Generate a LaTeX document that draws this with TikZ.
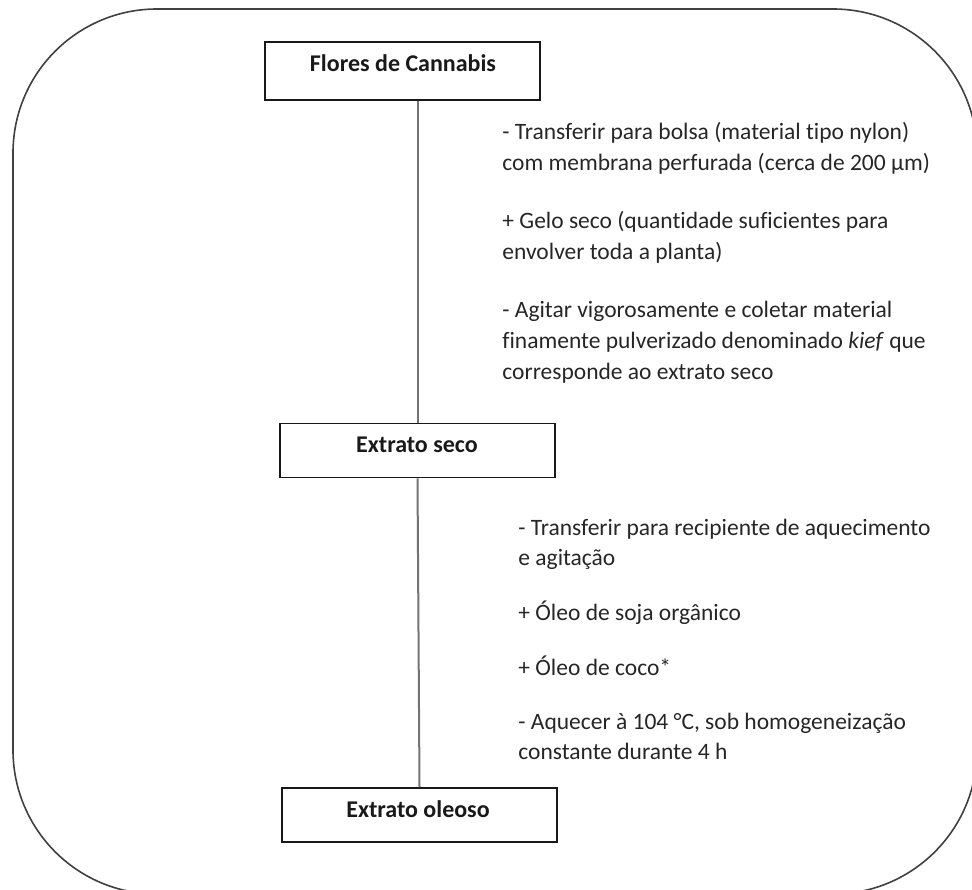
\documentclass[tikz,border=0pt]{standalone}
\usepackage{fontspec}
\setmainfont{Carlito}[Ligatures=NoCommon]
\begin{document}
\begin{tikzpicture}[x=0.5pt,y=-0.5pt,
  frame/.style={draw=black!75,line width=0.8pt,rounded corners=72pt},
  stagebox/.style={draw=black!90,line width=0.8pt,minimum width=137.5pt,minimum height=27pt,inner sep=0pt},
  title/.style={font=\fontsize{12pt}{14pt}\selectfont\bfseries,text=black!90,anchor=base,inner sep=0pt},
  stepline/.style={font=\fontsize{11.75pt}{14pt}\selectfont,text=black!85,anchor=base west,inner sep=0pt},
  conn/.style={draw=black!55,line width=1pt}]
\useasboundingbox (0,0) rectangle (972,889);
\begin{scope}
\clip (0,0) rectangle (972,889);
\draw[frame] (13,9) rectangle (977,894);
\end{scope}
% stage boxes
\node[stagebox,minimum height=29pt] (b1) at (402.5,71) {};
\node[stagebox] (b2) at (417.5,450.5) {};
\node[stagebox] (b3) at (419.5,815) {};
\node[title] (t1) at (403,71) {Flores de Cannabis};
\node[title] (t2) at (417,452) {Extrato seco};
\node[title] (t3) at (418,817) {Extrato oleoso};
% connectors
\draw[conn] (b1.south -| b2.north) -- (b2.north);
\draw[conn] (b2.south) -- (b3.north);
% first block
\node[stepline] (a1) at (502,139) {- Transferir para bolsa (material tipo nylon)};
\node[stepline] (a2) at (502,170) {com membrana perfurada (cerca de 200 µm)};
\node[stepline] (a3) at (502,228) {+ Gelo seco (quantidade suficientes para};
\node[stepline] (a4) at (502,259) {envolver toda a planta)};
\node[stepline] (a5) at (502,317) {- Agitar vigorosamente e coletar material};
\node[stepline] (a6) at (502,348) {finamente pulverizado denominado \textit{kief} que};
\node[stepline] (a7) at (502,379) {corresponde ao extrato seco};
% second block
\node[stepline] (c1) at (518,535) {- Transferir para recipiente de aquecimento};
\node[stepline] (c2) at (518,565) {e agitação};
\node[stepline] (c3) at (518,620) {+ Óleo de soja orgânico};
\node[stepline] (c4) at (518,675) {+ Óleo de coco*};
\node[stepline] (c5) at (518,729) {- Aquecer à 104 °C, sob homogeneização};
\node[stepline] (c6) at (518,759) {constante durante 4 h};
\end{tikzpicture}
\end{document}
